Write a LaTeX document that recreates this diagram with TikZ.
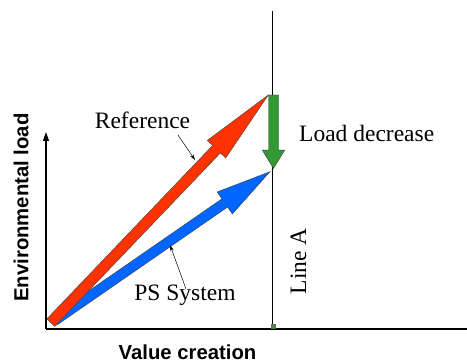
\documentclass[tikz,border=0pt]{standalone}
\usepackage{fontspec}
\setmainfont{Liberation Serif}
\newfontfamily\axisfont{Liberation Sans}
\usetikzlibrary{arrows.meta,calc}
\definecolor{redarr}{RGB}{255,51,0}
\definecolor{bluearr}{RGB}{0,102,255}
\definecolor{greenarr}{RGB}{51,153,51}
\newcommand\blockarr[6]{%
  \coordinate (ba-hb) at ($(#2)!#5!(#1)$);
  \filldraw[#6] ($(#1)!#3!90:(#2)$) -- ($(ba-hb)!#3!90:(#2)$) -- ($(ba-hb)!#4!90:(#2)$)
    -- (#2) -- ($(ba-hb)!#4!-90:(#2)$) -- ($(ba-hb)!#3!-90:(#2)$) -- ($(#1)!#3!-90:(#2)$) -- cycle;
}
\tikzset{
  blockline/.style={draw=black!75, line width=0.4pt, line join=miter},
  serlabel/.style={font=\fontsize{23.5}{28}\selectfont, inner sep=0pt, anchor=base},
  axlabel/.style={font=\axisfont\bfseries\fontsize{20.3}{24}\selectfont, inner sep=0pt, anchor=base},
  axisline/.style={line width=1.3pt},
  pointer/.style={line width=0.5pt, -{Stealth[length=6pt,width=3.5pt]}},
}
\begin{document}
\begin{tikzpicture}[x=1pt,y=1pt]
\useasboundingbox (0,0) rectangle (467,363);
\clip (0,0) rectangle (467,363);
% axes
\coordinate (origin) at (46,34);
\coordinate (ytop) at (46,231);
\coordinate (xend) at (476,34);
\draw[axisline,-{Triangle[length=9pt,width=6pt]}] (origin) -- (ytop);
\draw[axisline,-{Triangle[length=9pt,width=6pt]}] (origin) -- (xend);
% line A
\coordinate (lineAtop) at (272,352);
\coordinate (lineAbot) at (272,34);
\draw[line width=0.6pt] (lineAtop) -- (lineAbot);
\filldraw[fill=greenarr, draw=black!60, line width=0.3pt] (271.2,35) rectangle (275,39);
% block arrows
\coordinate (bluetail) at (54,42);
\coordinate (bluetip) at (270,191.3);
\blockarr{bluetail}{bluetip}{5pt}{13.4pt}{55pt}{fill=bluearr, blockline}
\coordinate (redtail) at (50.8,40.4);
\coordinate (redtip) at (268.3,268);
\blockarr{redtail}{redtip}{5.4pt}{12.7pt}{75pt}{fill=redarr, blockline}
\coordinate (greentail) at (273.5,268);
\coordinate (greentip) at (273.5,194.5);
\blockarr{greentail}{greentip}{5pt}{11.2pt}{18.3pt}{fill=greenarr, blockline}
% labels
\node[serlabel] (reflabel) at (142.5,234) {Reference};
\node[serlabel, anchor=base west] (loadlabel) at (299,221) {Load decrease};
\node[serlabel] (pslabel) at (185,62.3) {PS System};
\node[serlabel, rotate=90] (lineAlabel) at (306,101.7) {Line A};
\node[axlabel, rotate=90] (ylabel) at (28.3,155.5) {Environmental load};
\node[axlabel] (xlabel) at (187.5,3.6) {Value creation};
% pointers
\coordinate (refptrA) at (178,228);
\coordinate (refptrB) at (195,203);
\draw[pointer] (refptrA) -- (refptrB);
\coordinate (psptrA) at (186,74);
\coordinate (psptrB) at (170,118);
\draw[pointer] (psptrA) -- (psptrB);
\end{tikzpicture}
\end{document}
